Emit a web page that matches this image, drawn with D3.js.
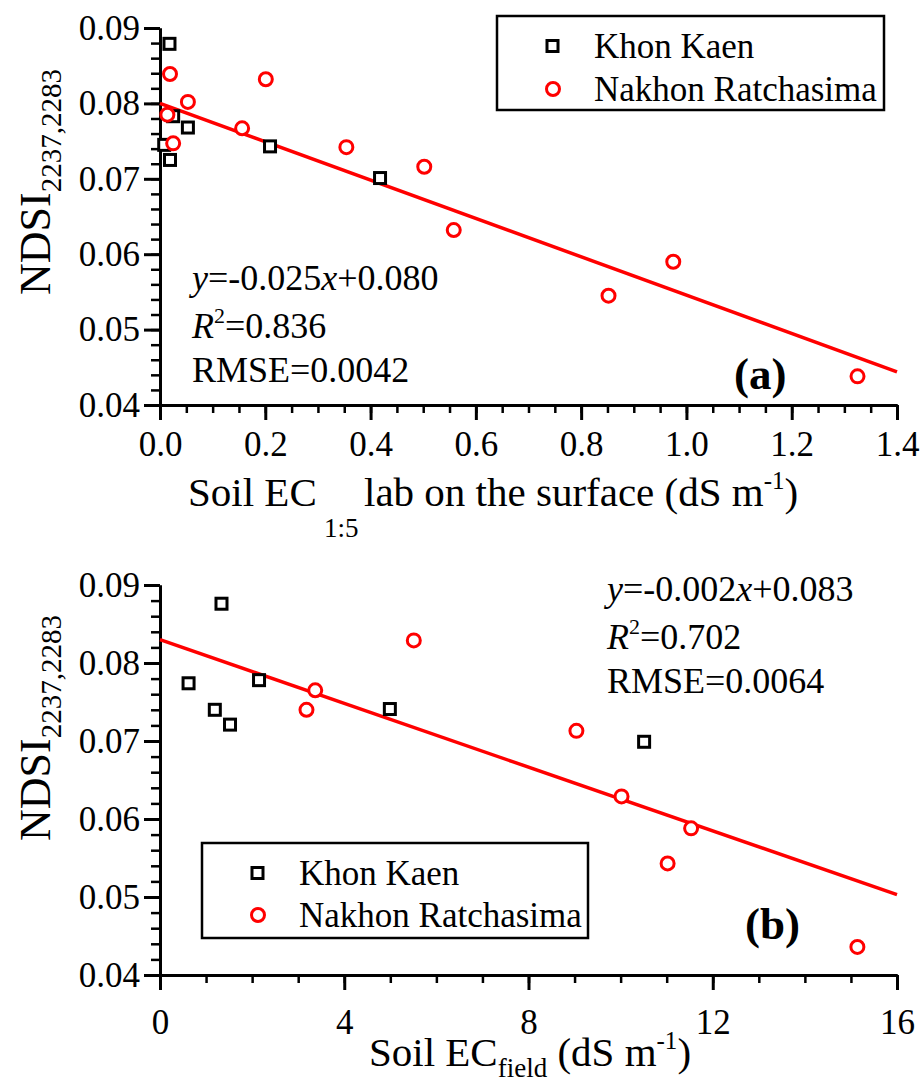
<!DOCTYPE html>
<html>
<head>
<meta charset="utf-8">
<script src="https://cdn.jsdelivr.net/npm/d3@7"></script>
<style>
  body { margin: 0; background: #fff; }
  text { font-family: "Liberation Serif", "Times New Roman", serif; fill: #000; }
</style>
</head>
<body>
<div id="chart"></div>
<script>
// ---- data ----
// panel (a): EC 1:5 lab (dS m-1) vs NDSI
var kkA_ec   = [0.018, 0.025, 0.053, 0.008, 0.019, 0.209, 0.418];
var kkA_ndsi = [0.0879, 0.0783, 0.0768, 0.0745, 0.0725, 0.0743, 0.0701];
var nrA_ec   = [0.019, 0.201, 0.053, 0.014, 0.156, 0.025, 0.354, 0.502, 0.558, 0.852, 0.975, 1.325];
var nrA_ndsi = [0.0839, 0.0832, 0.0802, 0.0785, 0.0767, 0.0747, 0.0742, 0.0716, 0.0632, 0.0545, 0.0590, 0.0438];
var fitA_ec   = [0, 1.4];
var fitA_ndsi = [0.0800, 0.0444];

// panel (b): EC field (dS m-1) vs NDSI
var kkB_ec   = [1.335, 0.62, 2.15, 1.19, 1.52, 4.99, 10.51];
var kkB_ndsi = [0.0876, 0.0774, 0.0778, 0.0740, 0.0721, 0.0741, 0.0699];
var nrB_ec   = [5.51, 3.37, 3.18, 9.04, 10.02, 11.53, 11.02, 15.14];
var nrB_ndsi = [0.0829, 0.0765, 0.0740, 0.0713, 0.0629, 0.0588, 0.0543, 0.0436];
var fitB_ec   = [0, 16];
var fitB_ndsi = [0.0830, 0.0503];

var yTicks  = [0.04, 0.05, 0.06, 0.07, 0.08, 0.09];
var xTicksA = [0, 0.2, 0.4, 0.6, 0.8, 1.0, 1.2, 1.4];
var xTicksB = [0, 4, 8, 12, 16];

var seriesNames = ["Khon Kaen", "Nakhon Ratchasima"];

// ---- svg ----
var width = 920, height = 1084;
var svg = d3.select("#chart").append("svg")
    .attr("width", width)
    .attr("height", height);

svg.append("rect").attr("width", width).attr("height", height).attr("fill", "#fff");

function zip(a, b) { return a.map(function(v, i) { return [v, b[i]]; }); }

function styleAxis(sel, w) {
    sel.select(".domain").attr("stroke", "#000").attr("stroke-width", 3);
    sel.selectAll(".tick line").attr("stroke", "#000").attr("stroke-width", w);
    sel.selectAll(".tick text")
        .style("font-family", "'Liberation Serif', serif")
        .style("font-size", "35px")
        .attr("fill", "#000");
}

function drawPanel(p) {
    var x = d3.scaleLinear().domain(p.xDomain).range([160, 897]);
    var y = d3.scaleLinear().domain([0.04, 0.09]).range([p.bottom, p.top]);
    var g = svg.append("g");

    // minor ticks
    g.append("g")
        .attr("transform", "translate(0," + p.bottom + ")")
        .call(d3.axisBottom(x).tickValues(p.xMinor).tickSize(8).tickSizeOuter(0).tickFormat(""))
        .call(styleAxis, 2.5);
    g.append("g")
        .attr("transform", "translate(160,0)")
        .call(d3.axisLeft(y).tickValues(d3.range(0.04, 0.0901, 0.002)).tickSize(9).tickSizeOuter(0).tickFormat(""))
        .call(styleAxis, 2.5);

    // major ticks
    g.append("g")
        .attr("transform", "translate(0," + p.bottom + ")")
        .call(d3.axisBottom(x).tickValues(p.xTicks).tickSize(15).tickSizeOuter(0)
            .tickPadding(p.xPad).tickFormat(p.xFormat))
        .call(styleAxis, 3);
    g.append("g")
        .attr("transform", "translate(160,0)")
        .call(d3.axisLeft(y).tickValues(yTicks).tickSize(16).tickSizeOuter(0)
            .tickPadding(4).tickFormat(d3.format(".2f")))
        .call(styleAxis, 3);

    // regression line
    g.append("path")
        .datum(zip(p.fitX, p.fitY))
        .attr("fill", "none")
        .attr("stroke", "#ff0000")
        .attr("stroke-width", 3.5)
        .attr("d", d3.line().x(function(d) { return x(d[0]); }).y(function(d) { return y(d[1]); }));

    // Khon Kaen squares
    g.selectAll(".sq").data(zip(p.kkX, p.kkY)).enter().append("rect")
        .attr("x", function(d) { return x(d[0]) - 5.5; })
        .attr("y", function(d) { return y(d[1]) - 5.5; })
        .attr("width", 11).attr("height", 11)
        .attr("fill", "#fff").attr("stroke", "#000").attr("stroke-width", 3);

    // Nakhon Ratchasima circles
    g.selectAll(".ci").data(zip(p.nrX, p.nrY)).enter().append("circle")
        .attr("cx", function(d) { return x(d[0]); })
        .attr("cy", function(d) { return y(d[1]); })
        .attr("r", 6.5)
        .attr("fill", "#fff").attr("stroke", "#ff0000").attr("stroke-width", 3);

    // y title
    var yt = g.append("text")
        .attr("transform", "translate(50," + p.yTitleY + ") rotate(-90)")
        .attr("text-anchor", "middle")
        .style("font-size", "44px");
    yt.append("tspan").text("NDSI");
    yt.append("tspan").attr("dy", 11).style("font-size", "29px").text("2237,2283");

    // legend
    var lg = g.append("g").attr("transform", "translate(" + p.legend[0] + "," + p.legend[1] + ")");
    lg.append("rect").attr("width", p.legend[2]).attr("height", p.legend[3])
        .attr("fill", "#fff").attr("stroke", "#000").attr("stroke-width", 2.5);
    lg.append("rect").attr("x", 50).attr("y", 24.5).attr("width", 11).attr("height", 11)
        .attr("fill", "#fff").attr("stroke", "#000").attr("stroke-width", 3);
    lg.append("circle").attr("cx", 56).attr("cy", p.legendRow2).attr("r", 6.5)
        .attr("fill", "#fff").attr("stroke", "#ff0000").attr("stroke-width", 3);
    lg.append("text").attr("x", 97).attr("y", 30).attr("dy", "0.35em")
        .style("font-size", "35px").text(seriesNames[0]);
    lg.append("text").attr("x", 97).attr("y", p.legendRow2).attr("dy", "0.35em")
        .style("font-size", "35px").text(seriesNames[1]);

    // statistics
    var st = g.append("g").style("font-size", "36px");
    var t1 = st.append("text").attr("x", p.stats[0]).attr("y", p.stats[1]);
    t1.append("tspan").style("font-style", "italic").text("y");
    t1.append("tspan").text("=" + p.eq[0]);
    t1.append("tspan").style("font-style", "italic").text("x");
    t1.append("tspan").text("+" + p.eq[1]);
    var t2 = st.append("text").attr("x", p.stats[0]).attr("y", p.stats[1] + 48);
    t2.append("tspan").style("font-style", "italic").text("R");
    t2.append("tspan").attr("dy", -15).style("font-size", "22px").text("2");
    t2.append("tspan").attr("dy", 15).text("=" + p.r2);
    st.append("text").attr("x", p.stats[0]).attr("y", p.stats[1] + 92).text("RMSE=" + p.rmse);

    g.append("text")
        .attr("x", p.tag[0]).attr("y", p.tag[1])
        .style("font-size", "45px").style("font-weight", "bold")
        .text(p.tagText);
}

drawPanel({
    xDomain: [0, 1.4], top: 28, bottom: 405,
    xTicks: xTicksA, xMinor: d3.range(0, 1.401, 0.05), xFormat: d3.format(".1f"), xPad: 11,
    fitX: fitA_ec, fitY: fitA_ndsi,
    kkX: kkA_ec, kkY: kkA_ndsi, nrX: nrA_ec, nrY: nrA_ndsi,
    yTitleY: 182,
    legend: [497, 16, 387, 94], legendRow2: 73,
    stats: [192, 290], eq: ["-0.025", "0.080"], r2: "0.836", rmse: "0.0042",
    tag: [734, 389], tagText: "(a)"
});

drawPanel({
    xDomain: [0, 16], top: 585, bottom: 975,
    xTicks: xTicksB, xMinor: d3.range(0, 16.01, 1), xFormat: d3.format("d"), xPad: 19,
    fitX: fitB_ec, fitY: fitB_ndsi,
    kkX: kkB_ec, kkY: kkB_ndsi, nrX: nrB_ec, nrY: nrB_ndsi,
    yTitleY: 728,
    legend: [202, 843, 386, 95], legendRow2: 72,
    stats: [607, 601], eq: ["-0.002", "0.083"], r2: "0.702", rmse: "0.0064",
    tag: [745, 939], tagText: "(b)"
});

// x title (a): subscript sits well below the line, in a gap
var xa = svg.append("text").attr("y", 506).style("font-size", "41px");
xa.append("tspan").attr("x", 188).text("Soil EC");
xa.append("tspan").attr("x", 324).attr("y", 537).style("font-size", "27px").text("1:5");
xa.append("tspan").attr("x", 364).attr("y", 506).text("lab on the surface (dS m");
xa.append("tspan").attr("dy", -17).style("font-size", "25px").text("-1");
xa.append("tspan").attr("dy", 17).text(")");

// x title (b)
var xb = svg.append("text").attr("x", 530).attr("y", 1066)
    .attr("text-anchor", "middle").style("font-size", "41px");
xb.append("tspan").text("Soil EC");
xb.append("tspan").attr("dy", 11).style("font-size", "27px").text("field");
xb.append("tspan").attr("dy", -11).text(" (dS m");
xb.append("tspan").attr("dy", -17).style("font-size", "25px").text("-1");
xb.append("tspan").attr("dy", 17).text(")");
</script>
</body>
</html>
